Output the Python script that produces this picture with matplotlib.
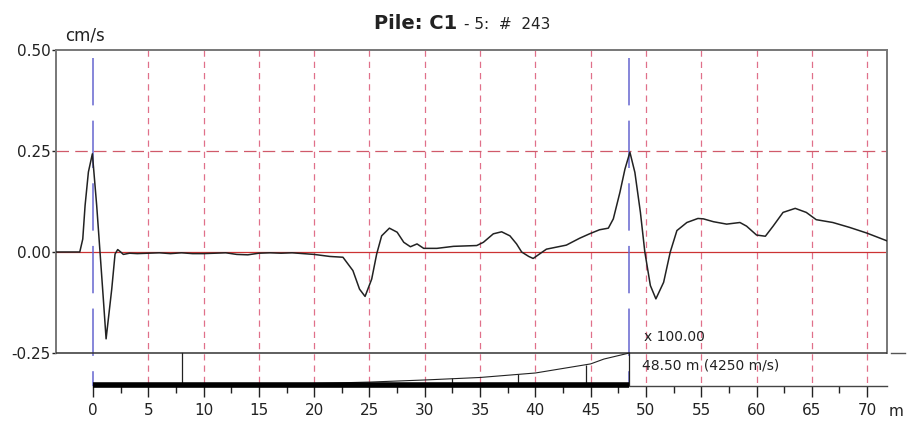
import matplotlib
matplotlib.use("Agg")
import matplotlib.pyplot as plt
import numpy as np

plt.rcParams["font.family"] = ["DejaVu Sans"]
plt.rcParams["axes.unicode_minus"] = False

# velocity trace (m, cm/s)
trace_x = [-3.35, -1.2, -0.93, -0.72, -0.42, -0.06, 0.33, 0.63, 0.93, 1.18, 1.69, 1.99,
           2.23, 2.5, 2.74, 3.3, 4.0, 5.0, 6.0, 7.0, 8.0, 9.0, 10.0, 11.0, 12.0, 13.0,
           14.0, 15.0, 16.0, 17.0, 18.0, 19.0, 20.0, 21.4, 22.6, 23.5, 24.1, 24.6, 25.2,
           25.65, 26.1, 26.8, 27.5, 28.1, 28.7, 29.3, 29.9, 31.1, 32.6, 34.7, 35.3, 36.2,
           36.95, 37.7, 38.3, 38.76, 39.4, 39.8, 41.0, 42.8, 44.0, 44.9, 45.8, 46.6, 47.05,
           47.65, 48.1, 48.55, 49.0, 49.5, 49.9, 50.4, 50.9, 51.6, 52.2, 52.8, 53.7, 54.7,
           55.2, 56.1, 57.3, 58.5, 59.1, 60.0, 60.8, 61.5, 62.4, 63.5, 64.5, 65.4, 66.9,
           68.4, 69.96, 71.76]
trace_v = [0.0, 0.0, 0.032, 0.115, 0.198, 0.243, 0.115, 0.0, -0.116, -0.215, -0.092, -0.005,
           0.006, 0.0, -0.006, -0.003, -0.004, -0.003, -0.002, -0.004, -0.002, -0.004, -0.004,
           -0.003, -0.002, -0.006, -0.007, -0.003, -0.002, -0.003, -0.002, -0.004, -0.006,
           -0.011, -0.013, -0.046, -0.092, -0.11, -0.067, -0.005, 0.04, 0.059, 0.049, 0.024,
           0.013, 0.02, 0.009, 0.009, 0.014, 0.016, 0.024, 0.045, 0.05, 0.04, 0.02, 0.0,
           -0.011, -0.016, 0.007, 0.017, 0.034, 0.045, 0.055, 0.059, 0.082, 0.148, 0.205,
           0.247, 0.197, 0.098, 0.0, -0.083, -0.116, -0.075, 0.0, 0.053, 0.073, 0.083, 0.082,
           0.075, 0.069, 0.073, 0.064, 0.042, 0.039, 0.064, 0.098, 0.108, 0.098, 0.08, 0.073,
           0.061, 0.047, 0.028]

# amplification curve in the strip under the plot
gain_x = [10.0, 20.0, 25.0, 30.0, 35.0, 40.0, 45.0, 46.2, 48.5]
gain_y = [-0.328, -0.3255, -0.322, -0.3168, -0.3106, -0.2995, -0.277, -0.265, -0.25]
marker_x = [32.5, 38.4, 44.6]
marker_top = [-0.313, -0.3015, -0.2785]

toe_x = 48.5
x_ticks = list(range(0, 75, 5))
y_ticks = [-0.25, 0.0, 0.25, 0.50]

XMIN, XMAX = -3.35, 71.8
YMIN, YMAX = -0.3317, 0.5

fig = plt.figure(figsize=(9.08, 4.21), dpi=100)
fig.patch.set_facecolor("white")
ax = fig.add_axes([56 / 908, 35 / 421, 831 / 908, 336 / 421])
ax.set_xlim(XMIN, XMAX)
ax.set_ylim(YMIN, YMAX)

# grid
red_grid = "#e0708a"
for gx in x_ticks[1:]:
    ax.plot([gx, gx], [YMAX, YMIN], color=red_grid, lw=0.9, dashes=(5, 4), zorder=1)
ax.plot([XMIN, XMAX], [0.25, 0.25], color="#d05a6a", lw=0.9, dashes=(10, 5), zorder=1)
ax.plot([XMIN, XMAX], [0.0, 0.0], color="#cc3333", lw=0.9, zorder=1)

# blue reflection markers
for bx in [0.0, toe_x]:
    ax.plot([bx, bx], [0.48, YMIN], color="#6666d0", lw=1.1, dashes=(31, 10), zorder=2)

# box
ax.plot([XMIN, XMAX], [-0.25, -0.25], color="#333333", lw=1.1, zorder=3)
ax.plot([XMAX + 0.4, XMAX + 1.6], [-0.25, -0.25], color="#555555", lw=1.0, clip_on=False)
for s in ["top", "left", "right"]:
    ax.spines[s].set_color("#777777")
    ax.spines[s].set_linewidth(1.4)
ax.spines["left"].set_bounds(-0.25, YMAX)
ax.spines["right"].set_bounds(-0.25, YMAX)
ax.spines["bottom"].set_bounds(0, XMAX)
ax.spines["bottom"].set_color("#444444")
ax.spines["bottom"].set_linewidth(1.0)

# trace
ax.plot(trace_x, trace_v, color="#222222", lw=1.1, zorder=4)

# lower strip
ax.plot([0, toe_x], [YMIN + 0.003, YMIN + 0.003], color="black", lw=4, solid_capstyle="butt",
        clip_on=False, zorder=5)
ax.plot(gain_x, gain_y, color="#222222", lw=0.8, zorder=4)
ax.plot([8, 8], [-0.25, YMIN], color="#222222", lw=0.9, zorder=4)
ax.vlines(marker_x, YMIN, marker_top, color="#222222", lw=0.9, zorder=4)
ax.plot([toe_x, toe_x], [-0.25, YMIN], color="#222222", lw=0.9, zorder=4)

ax.text(49.8, -0.21, "x 100.00", fontsize=10, va="center", ha="left", color="#222222")
ax.text(49.6, -0.282, "48.50 m (4250 m/s)", fontsize=10, va="center", ha="left",
        color="#222222")

# ticks
ax.set_xticks(x_ticks)
ax.set_xticks([x + 2.5 for x in x_ticks[:-1]], minor=True)
ax.set_yticks(y_ticks)
ax.set_yticklabels([f"{v:.2f}" for v in y_ticks])
ax.tick_params(axis="x", which="major", length=8, width=1, pad=4, labelsize=11,
               colors="#222222")
ax.tick_params(axis="x", which="minor", length=5, width=1, colors="#222222")
ax.tick_params(axis="y", length=3, width=1, pad=1, labelsize=11, colors="#222222")

fig.text(65 / 908, 1 - 35 / 421, "cm/s", fontsize=12, ha="left", va="center", color="#222222")
fig.text(889 / 908, 1 - 411 / 421, "m", fontsize=11, ha="left", va="center", color="#222222")

fig.text(457 / 908, 1 - 29 / 421, "Pile: C1", fontsize=14, fontweight="bold", ha="right",
         va="baseline", color="#222222")
fig.text(464 / 908, 1 - 29 / 421, "- 5:  #  243", fontsize=11, ha="left", va="baseline",
         color="#222222")

fig.savefig("out.png", dpi=100)
